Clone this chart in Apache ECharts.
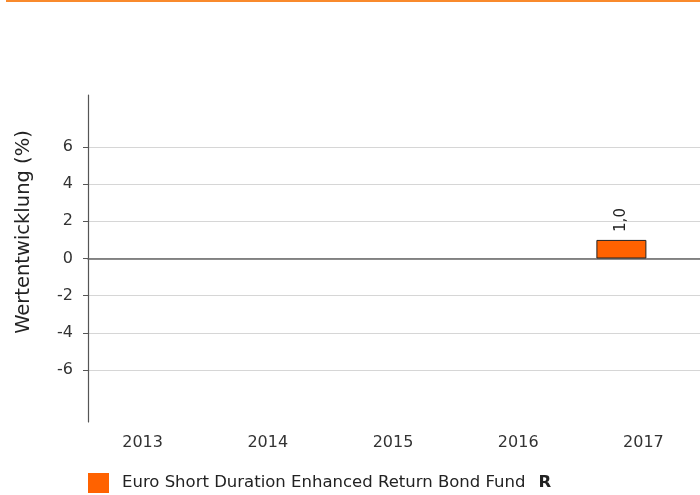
<!DOCTYPE html>
<html><head><meta charset="utf-8">
<script src="https://cdn.jsdelivr.net/npm/echarts@6/dist/echarts.min.js"></script>
<style>html,body{margin:0;padding:0;background:#fff;overflow:hidden;width:700px;height:495px}#c{width:720px;height:495px}</style>
</head><body><div id="c"></div>
<script>
const categories = ['2013', '2014', '2015', '2016', '2017'];
const fundValues = [null, null, null, null, 1.0];
const benchmarkValues = [null, null, null, null, null];
const yTickValues = [-6, -4, -2, 0, 2, 4, 6];
const fundName = 'Euro Short Duration Enhanced Return Bond Fund';
const yName = 'Wertentwicklung (%)';

const FONT = 'DejaVu Sans';
const chart = echarts.init(document.getElementById('c'), null, {renderer: 'canvas'});
chart.setOption({
  animation: false,
  textStyle: {fontFamily: FONT},
  graphic: [
    {type: 'rect', shape: {x: 6, y: 0, width: 714, height: 2}, style: {fill: '#f98a2c'}},
    {type: 'text', x: 24, y: 232, rotation: Math.PI / 2,
     style: {text: yName, fontFamily: FONT, fontSize: 19.5, fill: '#222', align: 'center', verticalAlign: 'middle'}}
  ],
  grid: {left: 88, top: 95, width: 626, height: 327, containLabel: false},
  legend: {
    data: [fundName], left: 88, top: 473, itemWidth: 21, itemHeight: 20, itemGap: 10, padding: 0,
    icon: 'rect',
    itemStyle: {borderWidth: 0},
    formatter: n => '{a|' + n + '}{b|R}',
    textStyle: {rich: {
      a: {fontFamily: FONT, fontSize: 16.5, color: '#222', padding: [0, 13, 0, 8]},
      b: {fontFamily: FONT, fontSize: 16.5, fontWeight: 'bold', color: '#222'}
    }}
  },
  xAxis: {
    type: 'category', data: categories,
    axisLine: {onZero: true, lineStyle: {color: '#666', width: 1.5}},
    axisTick: {show: false},
    axisLabel: {fontFamily: FONT, fontSize: 16, color: '#333', margin: 13, padding: [0, 16, 0, 0]},
    splitLine: {show: false}
  },
  yAxis: {
    type: 'value', min: -8.8, max: 8.8,
    axisLine: {show: true, onZero: false, lineStyle: {color: '#555', width: 1.2}},
    axisTick: {show: true, length: 5, customValues: yTickValues, lineStyle: {color: '#555'}},
    axisLabel: {fontFamily: FONT, fontSize: 16, color: '#333', margin: 15, customValues: yTickValues},
    splitLine: {show: true, lineStyle: {color: '#d6d6d6', width: 1}}
  },
  series: [
    {name: fundName, type: 'bar', data: fundValues, barWidth: 50, barGap: '20%',
     itemStyle: {color: '#ff6200', borderColor: '#222', borderWidth: 1},
     label: {show: true, position: 'top', rotate: 90, distance: 8, align: 'left', verticalAlign: 'middle',
             fontFamily: FONT, fontSize: 15, color: '#222',
             formatter: p => p.value.toFixed(1).replace('.', ',')}},
    {name: 'Benchmark', type: 'bar', data: benchmarkValues, barWidth: 50,
     itemStyle: {color: '#999'}}
  ]
});
</script></body></html>
